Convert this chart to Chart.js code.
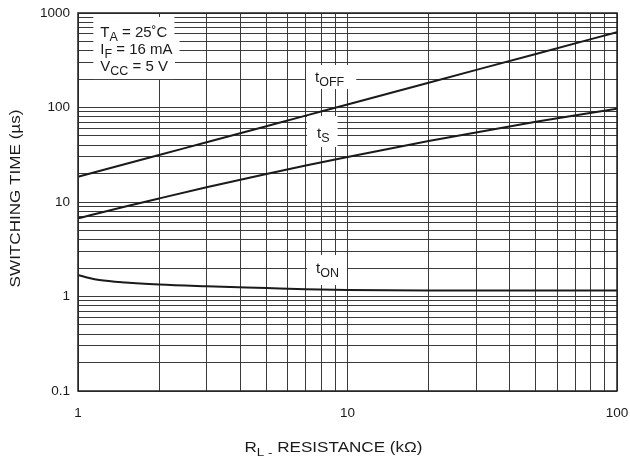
<!DOCTYPE html>
<html>
<head>
<meta charset="utf-8">
<script src="https://cdn.jsdelivr.net/npm/chart.js@4.4.1/dist/chart.umd.min.js"></script>
<style>
  html, body { margin: 0; padding: 0; background: #fff; }
  canvas { display: block; }
</style>
</head>
<body>
<canvas id="switchingChart" width="630" height="460"></canvas>
<script>
// values (kOhm -> us)
const resistance = [1, 1.1, 1.2, 1.5, 2, 3, 5, 7, 10, 20, 50, 100];
const tOff = [18.5, 19.9, 21.3, 25.2, 31.4, 42.9, 63.4, 82, 107.7, 183, 369, 627];
const tS   = [6.71, 7.19, 7.65, 8.95, 10.9, 14.3, 19.8, 24.3, 30.0, 44.2, 70.5, 97];
const tOn  = [1.69, 1.57, 1.495, 1.406, 1.34, 1.285, 1.23, 1.195, 1.172, 1.157, 1.157, 1.16];

const xTickLabels = [1, 10, 100];
const yTickLabels = [0.1, 1, 10, 100, 1000];

const FONT = '"Liberation Sans", Arial, Helvetica, sans-serif';
const INK = '#1a1a1a';
const GRID = '#3a3a3a';

// 1..9 in every decade, for the grid
function decadeGrid(min, max) {
  const v = [];
  for (let d = min; d < max * 0.999; d *= 10) {
    for (let m = 1; m < 10; m++) v.push(+(m * d).toPrecision(3));
  }
  v.push(max);
  return v;
}

// text pieces: [text, isSub]
const curveLabels = [
  { parts: [['t'], ['OFF', 1]], x: 7.58, y: 186, pad: [9, 17, 12, 7] },
  { parts: [['t'], ['S', 1]], x: 7.71, y: 47.6, pad: [10, 22, 8, 9] },
  { parts: [['t'], ['ON', 1]], x: 7.64, y: 1.77, pad: [9, 18, 8, 12] }
];
const conditionLines = [
  { parts: [['T'], ['A', 1], [' = 25\u02DAC']], x: 1.21, y: 557, pad: [7, 20, 7, 0] },
  { parts: [['I'], ['F', 1], [' = 16 mA']], x: 1.21, y: 368, pad: [7, 17, 7, 0] },
  { parts: [['V'], ['CC', 1], [' = 5 V']], x: 1.21, y: 243, pad: [7, 17, 7, 8] }
];

function partsWidth(ctx, parts, size, subSize) {
  let w = 0;
  parts.forEach(p => {
    ctx.font = (p[1] ? subSize : size) + 'px ' + FONT;
    w += ctx.measureText(p[0]).width;
  });
  return w;
}

function drawParts(ctx, parts, x, y, size, subSize, subDrop) {
  let cx = x;
  parts.forEach(p => {
    ctx.font = (p[1] ? subSize : size) + 'px ' + FONT;
    ctx.fillText(p[0], cx, p[1] ? y + subDrop : y);
    cx += ctx.measureText(p[0]).width;
  });
}

const labelPlugin = {
  id: 'labelPlugin',
  beforeDatasetsDraw(chart) {
    const ctx = chart.ctx;
    const xs = chart.scales.x, ys = chart.scales.y;
    const all = curveLabels.concat(conditionLines);
    ctx.save();
    ctx.textBaseline = 'alphabetic';
    ctx.textAlign = 'left';
    // white boxes first, so no box clips the text above it
    all.forEach(l => {
      const px = xs.getPixelForValue(l.x);
      const py = ys.getPixelForValue(l.y);
      const w = partsWidth(ctx, l.parts, 15, 12.5);
      ctx.fillStyle = '#fff';
      ctx.fillRect(px - l.pad[0], py - l.pad[1], w + l.pad[0] + l.pad[2], l.pad[1] + l.pad[3]);
    });
    ctx.fillStyle = INK;
    all.forEach(l => {
      drawParts(ctx, l.parts, xs.getPixelForValue(l.x), ys.getPixelForValue(l.y), 15, 12.5, 4.4);
    });
    ctx.restore();
  },
  afterDatasetsDraw(chart) {
    const ctx = chart.ctx;
    const a = chart.chartArea;
    ctx.save();
    ctx.strokeStyle = '#222';
    ctx.lineWidth = 1.5;
    ctx.strokeRect(a.left, a.top, a.right - a.left, a.bottom - a.top);
    ctx.restore();
  },
  afterDraw(chart) {
    const ctx = chart.ctx;
    const a = chart.chartArea;
    const stretch = 1.22;
    ctx.save();
    ctx.fillStyle = INK;
    ctx.textBaseline = 'alphabetic';
    ctx.textAlign = 'left';

    // x axis title
    const xParts = [['R'], ['L -', 1], [' RESISTANCE (k\u03A9)']];
    const xw = partsWidth(ctx, xParts, 14, 11) * stretch;
    ctx.save();
    ctx.translate(333.5 - xw / 2, 452);
    ctx.scale(stretch, 1);
    drawParts(ctx, xParts, 0, 0, 14, 11, 4);
    ctx.restore();

    // y axis title
    const yParts = [['SWITCHING TIME (\u00B5s)']];
    const yw = partsWidth(ctx, yParts, 14, 11) * stretch;
    ctx.save();
    ctx.translate(20, (a.top + a.bottom) / 2 - 3.5 + yw / 2);
    ctx.rotate(-Math.PI / 2);
    ctx.scale(stretch, 1);
    drawParts(ctx, yParts, 0, 0, 14, 11, 4);
    ctx.restore();

    ctx.restore();
  }
};

const lineSet = (label, values) => ({
  label: label,
  data: resistance.map((r, i) => ({ x: r, y: values[i] })),
  borderColor: INK,
  borderWidth: 2,
  pointRadius: 0,
  fill: false,
  cubicInterpolationMode: 'monotone'
});

new Chart(document.getElementById('switchingChart').getContext('2d'), {
  type: 'line',
  data: {
    datasets: [
      lineSet('tOFF', tOff),
      lineSet('tS', tS),
      lineSet('tON', tOn)
    ]
  },
  options: {
    responsive: false,
    animation: false,
    devicePixelRatio: 1,
    layout: { padding: { top: 13, right: 13, left: 0, bottom: 0 } },
    plugins: {
      legend: { display: false },
      tooltip: { enabled: false }
    },
    scales: {
      x: {
        type: 'logarithmic',
        position: 'bottom',
        min: 1,
        max: 100,
        afterBuildTicks: s => { s.ticks = decadeGrid(1, 100).map(v => ({ value: v })); },
        afterFit: s => { s.height = 69; s.paddingLeft = 0; s.paddingRight = 0; },
        grid: { color: GRID, lineWidth: 1, drawTicks: false },
        border: { display: false },
        ticks: {
          autoSkip: false,
          maxRotation: 0,
          padding: 14,
          color: INK,
          font: { family: FONT, size: 13.5 },
          callback: v => xTickLabels.includes(v) ? String(v) : ''
        }
      },
      y: {
        type: 'logarithmic',
        position: 'left',
        min: 0.1,
        max: 1000,
        afterBuildTicks: s => { s.ticks = decadeGrid(0.1, 1000).map(v => ({ value: v })); },
        afterFit: s => { s.width = 78; s.paddingTop = 0; s.paddingBottom = 0; },
        grid: { color: GRID, lineWidth: 1, drawTicks: false },
        border: { display: false },
        ticks: {
          autoSkip: false,
          padding: 8,
          color: INK,
          font: { family: FONT, size: 13.5 },
          callback: v => yTickLabels.includes(v) ? String(v) : ''
        }
      }
    }
  },
  plugins: [labelPlugin]
});
</script>
</body>
</html>
